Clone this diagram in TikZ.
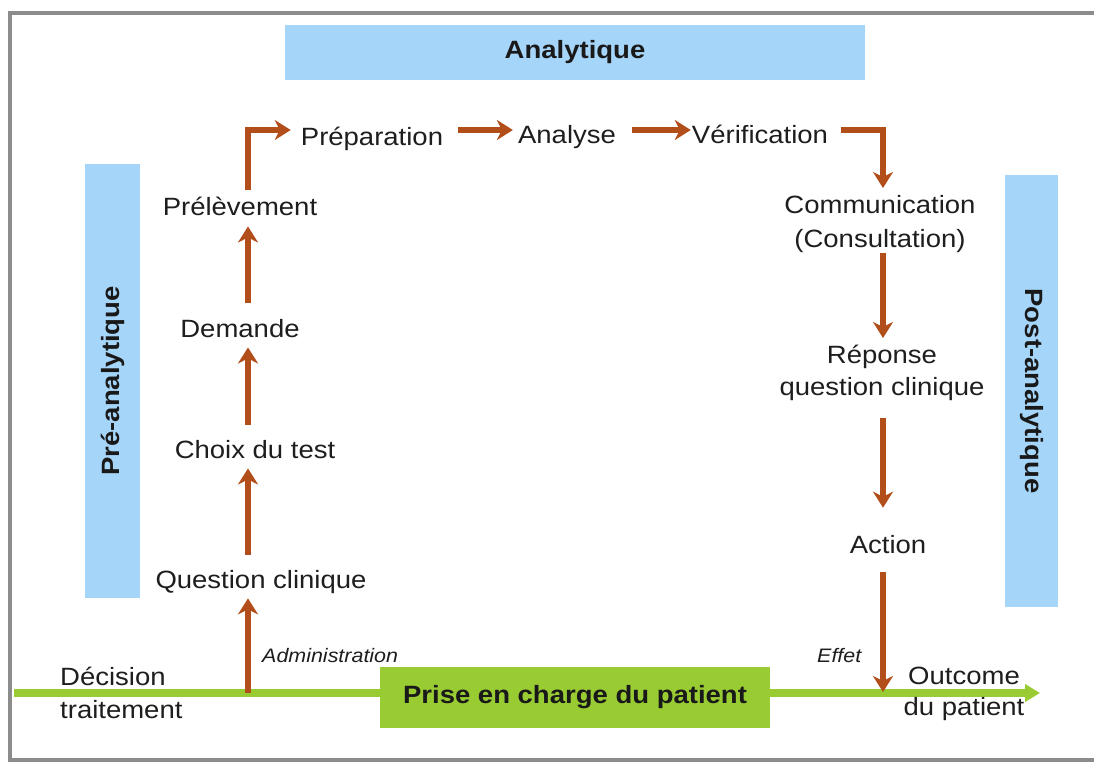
\documentclass[tikz,border=0pt]{standalone}
\usepackage{fontspec}
\setmainfont{Liberation Sans}[FakeStretch=1.1]
\usetikzlibrary{arrows.meta}
\definecolor{bxblue}{RGB}{166,213,250}
\definecolor{bxgreen}{RGB}{153,204,51}
\definecolor{arbrown}{RGB}{178,78,26}
\definecolor{framegray}{RGB}{140,140,140}
\definecolor{txt}{RGB}{30,30,30}
\begin{document}
\begin{tikzpicture}[x=1pt,y=-1pt,
  lbl/.style={inner sep=0pt, text=txt, font=\fontsize{25}{33}\selectfont},
  small/.style={inner sep=0pt, text=txt, font=\fontsize{19.5}{22}\selectfont\itshape},
  phase/.style={fill=bxblue, draw=none, inner sep=0pt, text=black!90, font=\fontsize{25}{30}\selectfont\bfseries},
  carebox/.style={fill=bxgreen, draw=none, inner sep=0pt, text=black!90, font=\fontsize{25}{30}\selectfont\bfseries},
  arr/.style={draw=arbrown, line width=6pt, line join=miter, -{Stealth[length=16pt,width=20pt,inset=5pt]}},
  gline/.style={draw=bxgreen, line width=8pt, -{Triangle[length=15pt,width=17pt]}},
  frame/.style={draw=framegray, line width=4.5pt}
]
\useasboundingbox (0,0) rectangle (1094,763);
\fill[white] (0,0) rectangle (1094,763);
% frame
\draw[frame] (1100,13) -- (10,13) -- (10,760) -- (1100,760);

% phase boxes
\node[phase, minimum width=580pt, minimum height=55pt] (anaph) at (575,52.5) {Analytique};
\node[phase, minimum width=434pt, minimum height=55pt, rotate=90] (preph) at (112.5,381) {Pré-analytique};
\node[phase, minimum width=432pt, minimum height=53pt, rotate=-90] (postph) at (1031.5,391) {Post-analytique};

% green patient line
\coordinate (g0) at (14,693);
\coordinate (g1) at (1040,693);
\draw[gline] (g0) -- (g1);
\node[carebox, minimum width=390pt, minimum height=61pt] (care) at (575,697.5) {Prise en charge du patient};

% helper coordinates
\coordinate (lx) at (248,0);
\coordinate (rx) at (883,0);
\coordinate (toprow) at (0,130);
\coordinate (adm) at (248,693);
\coordinate (eff) at (883,693);

% labels
\node[lbl, anchor=base] (prep) at (372,145) {Préparation};
\node[lbl, anchor=base] (anl) at (567,143) {Analyse};
\node[lbl, anchor=base] (verif) at (760,143) {Vérification};
\node[lbl, anchor=base] (prel) at (240,215) {Prélèvement};
\node[lbl, anchor=base] (dem) at (240,337) {Demande};
\node[lbl, anchor=base] (choix) at (255,458) {Choix du test};
\node[lbl, anchor=base] (qc) at (261,588) {Question clinique};
\node[lbl, align=center, anchor=north, font=\fontsize{25}{34}\selectfont] (comm) at (880,195) {Communication\\(Consultation)};
\node[lbl, align=center, anchor=north, font=\fontsize{25}{32}\selectfont] (rep) at (882,345) {Réponse\\question clinique};
\node[lbl, anchor=base] (act) at (888,553) {Action};
\node[lbl, align=left, anchor=north west] (dec) at (60,667) {Décision\\traitement};
\node[lbl, align=center, anchor=north, font=\fontsize{25}{31}\selectfont] (out) at (964,667) {Outcome\\du patient};
\node[small, anchor=base west] (admlbl) at (262,662) {Administration};
\node[small, anchor=base west] (efflbl) at (817,662) {Effet};

% brown arrows
\draw[arr, shorten >=5pt] (adm) -- (qc.south -| lx);
\draw[arr, shorten <=15pt, shorten >=10pt] (qc.north -| lx) -- (choix.south -| lx);
\draw[arr, shorten <=15pt, shorten >=10pt] (choix.north -| lx) -- (dem.south -| lx);
\draw[arr, shorten <=16pt, shorten >=11pt] (dem.north -| lx) -- (prel.south -| lx);
\draw[arr, shorten <=6pt, shorten >=10pt] (prel.north -| lx) |- (prep.west |- toprow);
\draw[arr, shorten <=15pt, shorten >=5pt] (prep.east |- toprow) -- (anl.west |- toprow);
\draw[arr, shorten <=16pt, shorten >=1pt] (anl.east |- toprow) -- (verif.west |- toprow);
\draw[arr, shorten <=13pt, shorten >=7pt] (verif.east |- toprow) -| (comm.north -| rx);
\draw[arr, shorten >=7pt] (comm.south -| rx) -- (rep.north -| rx);
\draw[arr, shorten <=17pt, shorten >=27pt] (rep.south -| rx) -- (act.north -| rx);
\draw[arr, shorten <=19pt, shorten >=1pt] (act.south -| rx) -- (eff);
\end{tikzpicture}
\end{document}
